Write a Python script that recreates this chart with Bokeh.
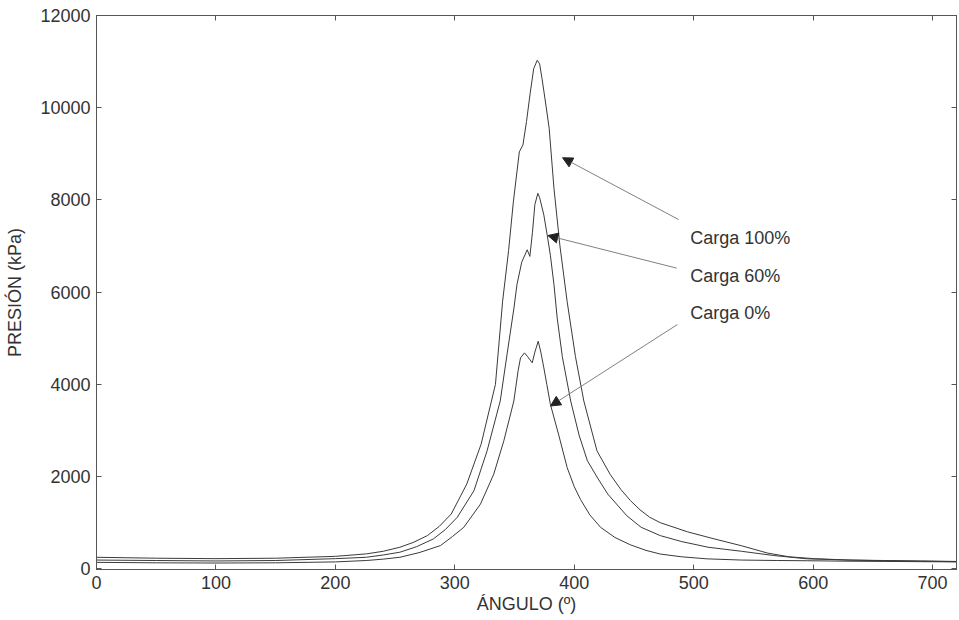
from bokeh.plotting import figure
from bokeh.models import Range1d, LinearAxis, FixedTicker, Arrow, NormalHead, Label
from bokeh.embed import file_html
from bokeh.resources import INLINE

# ---- data ----
x_100 = [0, 50, 100, 150, 200, 226, 240, 254, 265, 277, 287, 297, 310, 322, 334, 340, 345, 349, 354, 357,
         360, 363, 366, 369, 371, 373, 376, 379, 383, 388, 394, 401, 408, 419, 430, 439, 447, 455, 463, 472,
         495, 517, 540, 562, 580, 601, 630, 660, 690, 720]
y_100 = [250, 230, 220, 230, 270, 324, 380, 468, 570, 720, 920, 1189, 1838, 2703, 4000, 5804, 6900, 7960,
         9044, 9190, 9700, 10300, 10845, 11030, 10950, 10630, 10100, 9548, 8250, 7000, 5800, 4600, 3639,
         2558, 2050, 1720, 1480, 1280, 1120, 1000, 800, 650, 500, 340, 260, 220, 190, 180, 170, 160]

x_60 = [0, 50, 100, 150, 200, 226, 240, 254, 268, 282, 292, 302, 316, 327, 338, 344, 349.5, 352, 356,
        360.6, 362.8, 365, 367, 369.5, 371, 374.5, 377.3, 380, 383, 385.7, 390, 397, 404, 411, 420, 428,
        444, 456, 472, 490, 512, 540, 567, 595, 630, 660, 690, 720]
y_60 = [190, 180, 170, 180, 220, 250, 300, 360, 480, 648, 850, 1116, 1693, 2558, 3639, 4700, 5657, 6162,
        6650, 6919, 6775, 7300, 7900, 8143, 8050, 7676, 7243, 6800, 6162, 5440, 4600, 3639, 2900, 2342,
        1950, 1622, 1150, 900, 720, 590, 468, 380, 288, 216, 190, 175, 165, 155]

x_0 = [0, 50, 100, 150, 200, 226, 240, 254, 270, 288, 298, 307.5, 321.5, 332.6, 341, 349.4, 353, 355,
       358.3, 361, 364.8, 367, 369.8, 372, 374.5, 377, 380, 387, 394, 400, 405.3, 413, 422, 434, 447, 460,
       472, 490, 511, 540, 570, 595, 630, 660, 690, 720]
y_0 = [140, 130, 125, 130, 150, 180, 210, 250, 350, 504, 700, 900, 1405, 2054, 2774, 3639, 4300, 4575,
       4683, 4600, 4467, 4700, 4936, 4700, 4360, 4000, 3568, 2900, 2198, 1780, 1500, 1170, 900, 680, 520,
       400, 320, 260, 216, 190, 180, 175, 165, 160, 155, 150]

x_ticks = [0, 100, 200, 300, 400, 500, 600, 700]
y_ticks = [0, 2000, 4000, 6000, 8000, 10000, 12000]

labels = ["Carga 100%", "Carga 60%", "Carga 0%"]
label_x = [497, 497, 497]
label_y = [7170, 6341, 5548]
arrow_x0 = [487.4, 485.7, 486.3]
arrow_y0 = [7574, 6521, 5297]
arrow_x1 = [390.2, 377.9, 380.1]
arrow_y1 = [8915, 7228, 3531]

FONT = "Liberation Sans"
TXT = "#333333"
AX = "#555555"

p = figure(width=958, height=618, x_range=Range1d(0, 720), y_range=Range1d(-15, 12000),
           output_backend="svg", toolbar_location=None, tools="",
           min_border_left=96, min_border_right=2, min_border_top=15, min_border_bottom=49)
p.background_fill_color = "white"
p.border_fill_color = "white"
p.outline_line_color = AX
p.xgrid.visible = False
p.ygrid.visible = False

for xs, ys in [(x_100, y_100), (x_60, y_60), (x_0, y_0)]:
    p.line(xs, ys, line_color="#3a3a3a", line_width=1)

def style(ax):
    ax.axis_line_color = AX
    ax.major_tick_line_color = AX
    ax.major_tick_in = 5
    ax.major_tick_out = 0
    ax.minor_tick_line_color = None
    ax.major_label_text_font = FONT
    ax.major_label_text_font_size = "18px"
    ax.major_label_text_color = TXT
    ax.axis_label_text_font = FONT
    ax.axis_label_text_font_size = "18px"
    ax.axis_label_text_font_style = "normal"
    ax.axis_label_text_color = TXT

p.xaxis.ticker = FixedTicker(ticks=x_ticks)
p.yaxis.ticker = FixedTicker(ticks=y_ticks)
p.xaxis.axis_label = "ÁNGULO (º)"
p.yaxis.axis_label = "PRESIÓN (kPa)"
style(p.xaxis[0])
style(p.yaxis[0])
p.xaxis.major_label_standoff = 6
p.xaxis.axis_label_standoff = 2
p.yaxis.major_label_standoff = 6
p.yaxis.axis_label_standoff = 12

top = LinearAxis(ticker=FixedTicker(ticks=x_ticks), major_label_standoff=0,
                 major_label_overrides={t: "" for t in x_ticks})
right = LinearAxis(ticker=FixedTicker(ticks=y_ticks), major_label_standoff=0,
                   major_label_overrides={t: "" for t in y_ticks})
style(top)
style(right)
p.add_layout(top, "above")
p.add_layout(right, "right")

for i in range(3):
    p.add_layout(Arrow(end=NormalHead(size=10, fill_color="#222222", line_color="#222222", line_width=1),
                       x_start=arrow_x0[i], y_start=arrow_y0[i], x_end=arrow_x1[i], y_end=arrow_y1[i],
                       line_color="#808080", line_width=1))
    p.add_layout(Label(x=label_x[i], y=label_y[i], text=labels[i], text_font=FONT,
                       text_font_size="18px", text_color=TXT, text_baseline="middle", text_align="left"))

open("out.html", "w").write(file_html(p, INLINE))
